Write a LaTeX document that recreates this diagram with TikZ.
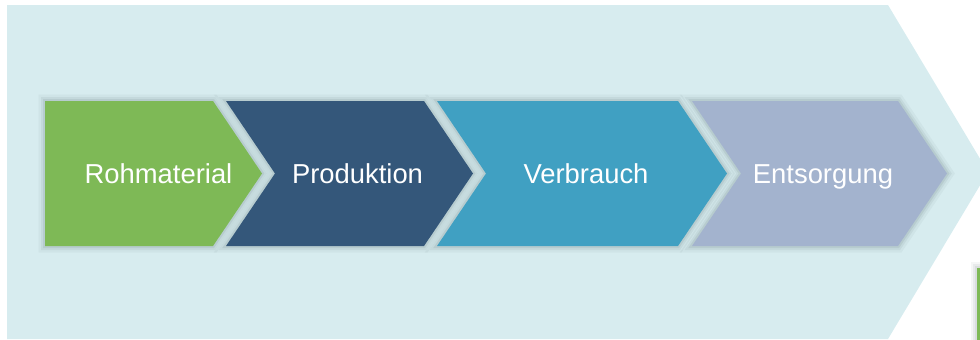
\documentclass[tikz,border=0pt]{standalone}
\usepackage{fontspec}
\setmainfont{Liberation Sans}
\definecolor{bgcyan}{RGB}{215,236,239}
\definecolor{rawgreen}{RGB}{126,185,86}
\definecolor{prodblue}{RGB}{52,87,122}
\definecolor{usecyan}{RGB}{64,160,194}
\definecolor{wastelilac}{RGB}{163,179,206}
\definecolor{shadowgrey}{RGB}{60,80,85}
\tikzset{
  stage/.style={line join=round,
    preaction={draw=shadowgrey,draw opacity=0.05,line width=13pt},
    preaction={draw=shadowgrey,draw opacity=0.07,line width=8pt},
    preaction={draw=shadowgrey,draw opacity=0.09,line width=4pt}},
  stagelabel/.style={text=white,font=\fontsize{27.4}{30}\selectfont,anchor=base,inner sep=0pt},
}
\begin{document}
\begin{tikzpicture}[x=1pt,y=-1pt]
	\useasboundingbox (0,0) rectangle (980,340);
	\clip (0,0) rectangle (980,340);
	% big background arrow
	\fill[bgcyan] (7,5) -- (888,5) -- (988,172) -- (888,339) -- (7,339) -- cycle;
	% stages
	\fill[rawgreen,stage] (45,101) -- (213,101) -- (262,173.5) -- (213,246) -- (45,246) -- cycle;
	\fill[prodblue,stage] (226,101) -- (424,101) -- (473,173.5) -- (424,246) -- (226,246) -- (275,173.5) -- cycle;
	\fill[usecyan,stage] (437,101) -- (678,101) -- (727,173.5) -- (678,246) -- (437,246) -- (486,173.5) -- cycle;
	\fill[wastelilac,stage] (692,101) -- (898,101) -- (947,173.5) -- (898,246) -- (692,246) -- (741,173.5) -- cycle;
	\node[stagelabel] (rohmaterial) at (158.5,183) {Rohmaterial};
	\node[stagelabel] (produktion) at (357.5,183) {Produktion};
	\node[stagelabel] (verbrauch) at (586,183) {Verbrauch};
	\node[stagelabel] (entsorgung) at (823,183) {Entsorgung};
	% cut-off box at the lower right
	\fill[rawgreen,stage] (977,268) rectangle (995,350);
\end{tikzpicture}
\end{document}
